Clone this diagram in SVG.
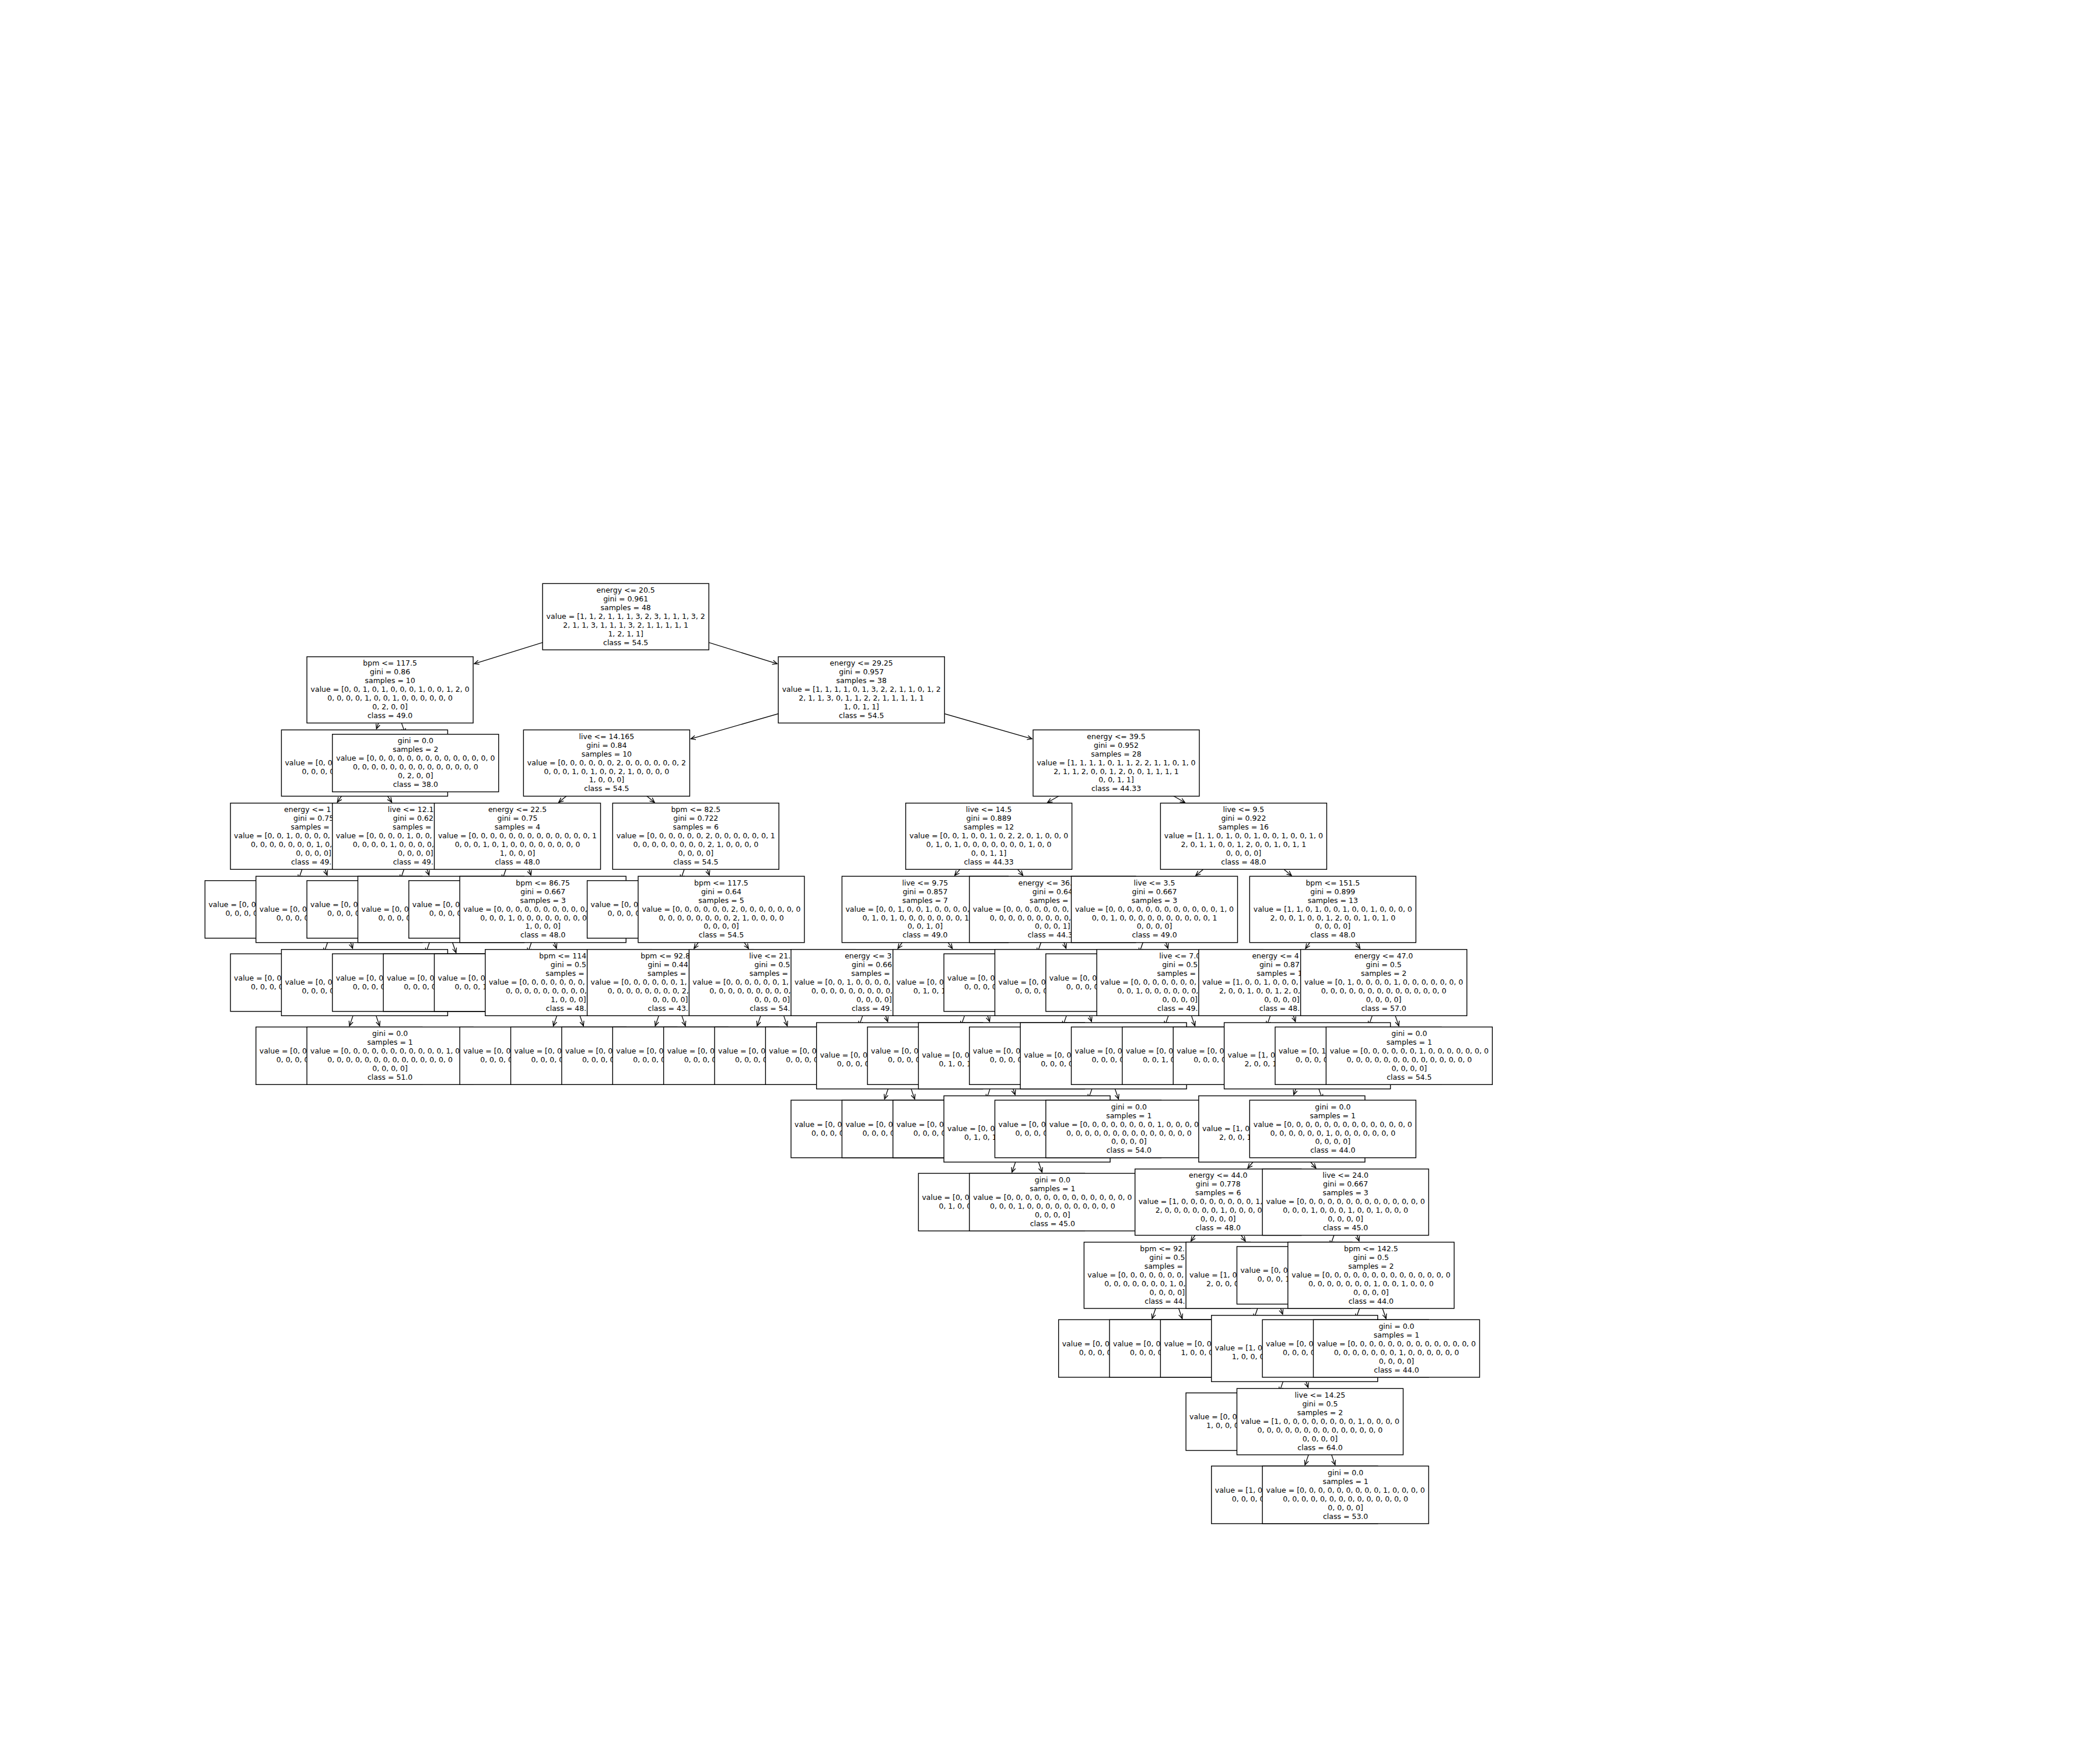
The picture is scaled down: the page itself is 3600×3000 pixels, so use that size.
<svg xmlns="http://www.w3.org/2000/svg" width="3600" height="3000" viewBox="0 0 3600 3000">
<defs>
<style>
.b{fill:#fff;stroke:#000;stroke-width:1.4}
text{font-family:"DejaVu Sans","Liberation Sans",sans-serif;font-size:12.5px;fill:#000;text-anchor:middle}
.f{text-anchor:start}
#edges line{stroke:#000;stroke-width:1.3;fill:none;marker-end:url(#ah)}
</style>
<marker id="ah" markerUnits="userSpaceOnUse" markerWidth="14" markerHeight="14" viewBox="-12 -7 14 14" refX="0" refY="0" orient="auto" overflow="visible"><path d="M-8,-3.6 L0,0 L-8,3.6" fill="none" stroke="#000" stroke-width="1.3"/></marker>
</defs>
<rect x="0" y="0" width="3600" height="3000" fill="#fff"/>
<g id="edges">
<line x1="1072.66" y1="1057.2" x2="813.03" y2="1137.82"/>
<line x1="1072.66" y1="1057.2" x2="1332.29" y2="1137.82"/>
<line x1="668.62" y1="1182.65" x2="645.38" y2="1249.41"/>
<line x1="668.62" y1="1182.65" x2="694.46" y2="1256.86"/>
<line x1="1476.7" y1="1182.65" x2="1184.32" y2="1266.63"/>
<line x1="1476.7" y1="1182.65" x2="1769.08" y2="1266.63"/>
<line x1="624.94" y1="1308.1" x2="578.27" y2="1375.11"/>
<line x1="624.94" y1="1308.1" x2="671.61" y2="1375.11"/>
<line x1="1039.9" y1="1308.1" x2="957.79" y2="1375.48"/>
<line x1="1039.9" y1="1308.1" x2="1122.01" y2="1375.48"/>
<line x1="1913.5" y1="1308.1" x2="1795.72" y2="1375.75"/>
<line x1="1913.5" y1="1308.1" x2="2031.28" y2="1375.75"/>
<line x1="537.58" y1="1433.55" x2="511.74" y2="1507.76"/>
<line x1="537.58" y1="1433.55" x2="560.82" y2="1500.31"/>
<line x1="712.3" y1="1433.55" x2="686.46" y2="1507.76"/>
<line x1="712.3" y1="1433.55" x2="735.54" y2="1500.31"/>
<line x1="887.02" y1="1433.55" x2="861.18" y2="1507.76"/>
<line x1="887.02" y1="1433.55" x2="910.26" y2="1500.31"/>
<line x1="1192.78" y1="1433.55" x2="1166.94" y2="1507.76"/>
<line x1="1192.78" y1="1433.55" x2="1216.02" y2="1500.31"/>
<line x1="1695.1" y1="1433.55" x2="1636.65" y2="1500.69"/>
<line x1="1695.1" y1="1433.55" x2="1753.55" y2="1500.69"/>
<line x1="2131.9" y1="1433.55" x2="2049.79" y2="1500.93"/>
<line x1="2131.9" y1="1433.55" x2="2214.01" y2="1500.93"/>
<line x1="581.26" y1="1559" x2="555.42" y2="1633.21"/>
<line x1="581.26" y1="1559" x2="604.5" y2="1625.76"/>
<line x1="755.98" y1="1559" x2="730.14" y2="1633.21"/>
<line x1="755.98" y1="1559" x2="781.82" y2="1633.21"/>
<line x1="930.7" y1="1559" x2="904.86" y2="1633.21"/>
<line x1="930.7" y1="1559" x2="953.94" y2="1625.76"/>
<line x1="1236.46" y1="1559" x2="1189.79" y2="1626.01"/>
<line x1="1236.46" y1="1559" x2="1283.13" y2="1626.01"/>
<line x1="1585.9" y1="1559" x2="1539.23" y2="1626.01"/>
<line x1="1585.9" y1="1559" x2="1632.57" y2="1626.01"/>
<line x1="1804.3" y1="1559" x2="1778.46" y2="1633.21"/>
<line x1="1804.3" y1="1559" x2="1827.54" y2="1625.76"/>
<line x1="1979.02" y1="1559" x2="1953.18" y2="1633.21"/>
<line x1="1979.02" y1="1559" x2="2002.26" y2="1625.76"/>
<line x1="2284.78" y1="1559" x2="2238.11" y2="1626.01"/>
<line x1="2284.78" y1="1559" x2="2331.45" y2="1626.01"/>
<line x1="624.94" y1="1684.45" x2="599.1" y2="1758.66"/>
<line x1="624.94" y1="1684.45" x2="650.78" y2="1758.66"/>
<line x1="974.38" y1="1684.45" x2="948.54" y2="1758.66"/>
<line x1="974.38" y1="1684.45" x2="1000.22" y2="1758.66"/>
<line x1="1149.1" y1="1684.45" x2="1123.26" y2="1758.66"/>
<line x1="1149.1" y1="1684.45" x2="1174.94" y2="1758.66"/>
<line x1="1323.82" y1="1684.45" x2="1297.98" y2="1758.66"/>
<line x1="1323.82" y1="1684.45" x2="1349.66" y2="1758.66"/>
<line x1="1498.54" y1="1684.45" x2="1472.7" y2="1758.66"/>
<line x1="1498.54" y1="1684.45" x2="1521.78" y2="1751.21"/>
<line x1="1673.26" y1="1684.45" x2="1647.42" y2="1758.66"/>
<line x1="1673.26" y1="1684.45" x2="1696.5" y2="1751.21"/>
<line x1="1847.98" y1="1684.45" x2="1822.14" y2="1758.66"/>
<line x1="1847.98" y1="1684.45" x2="1871.22" y2="1751.21"/>
<line x1="2022.7" y1="1684.45" x2="1996.86" y2="1758.66"/>
<line x1="2022.7" y1="1684.45" x2="2048.54" y2="1758.66"/>
<line x1="2197.42" y1="1684.45" x2="2171.58" y2="1758.66"/>
<line x1="2197.42" y1="1684.45" x2="2220.66" y2="1751.21"/>
<line x1="2372.14" y1="1684.45" x2="2346.3" y2="1758.66"/>
<line x1="2372.14" y1="1684.45" x2="2397.98" y2="1758.66"/>
<line x1="1542.22" y1="1809.9" x2="1516.38" y2="1884.11"/>
<line x1="1542.22" y1="1809.9" x2="1568.06" y2="1884.11"/>
<line x1="1716.94" y1="1809.9" x2="1691.1" y2="1884.11"/>
<line x1="1716.94" y1="1809.9" x2="1740.18" y2="1876.66"/>
<line x1="1891.66" y1="1809.9" x2="1865.82" y2="1884.11"/>
<line x1="1891.66" y1="1809.9" x2="1917.5" y2="1884.11"/>
<line x1="2241.1" y1="1809.9" x2="2217.86" y2="1876.66"/>
<line x1="2241.1" y1="1809.9" x2="2266.94" y2="1884.11"/>
<line x1="1760.62" y1="1935.35" x2="1734.78" y2="2009.56"/>
<line x1="1760.62" y1="1935.35" x2="1786.46" y2="2009.56"/>
<line x1="2197.42" y1="1935.35" x2="2138.97" y2="2002.49"/>
<line x1="2197.42" y1="1935.35" x2="2255.87" y2="2002.49"/>
<line x1="2088.22" y1="2060.8" x2="2041.55" y2="2127.81"/>
<line x1="2088.22" y1="2060.8" x2="2134.89" y2="2127.81"/>
<line x1="2306.62" y1="2060.8" x2="2280.78" y2="2135.01"/>
<line x1="2306.62" y1="2060.8" x2="2329.86" y2="2127.56"/>
<line x1="2000.86" y1="2186.25" x2="1975.02" y2="2260.46"/>
<line x1="2000.86" y1="2186.25" x2="2026.7" y2="2260.46"/>
<line x1="2175.58" y1="2186.25" x2="2149.74" y2="2260.46"/>
<line x1="2175.58" y1="2186.25" x2="2198.82" y2="2253.01"/>
<line x1="2350.3" y1="2186.25" x2="2324.46" y2="2260.46"/>
<line x1="2350.3" y1="2186.25" x2="2376.14" y2="2260.46"/>
<line x1="2219.26" y1="2311.7" x2="2193.42" y2="2385.91"/>
<line x1="2219.26" y1="2311.7" x2="2242.5" y2="2378.46"/>
<line x1="2262.94" y1="2437.15" x2="2237.1" y2="2511.36"/>
<line x1="2262.94" y1="2437.15" x2="2288.78" y2="2511.36"/>
</g>

<!-- depth 0 -->
<g id="d0_root" transform="translate(1072.66 1057.2)"><rect class="b" x="-142.5" y="-56.8" width="285" height="113.6"/>
<text y="-41.4">energy &lt;= 20.5</text><text y="-26.4">gini = 0.961</text><text y="-11.5">samples = 48</text>
<text y="3.5">value = [1, 1, 2, 1, 1, 1, 3, 2, 3, 1, 1, 1, 3, 2</text><text y="18.5">2, 1, 1, 3, 1, 1, 1, 3, 2, 1, 1, 1, 1, 1</text><text y="33.4">1, 2, 1, 1]</text><text y="48.4">class = 54.5</text></g>

<!-- depth 1 -->
<g id="d1_i4" transform="translate(668.62 1182.65)"><rect class="b" x="-142.5" y="-56.8" width="285" height="113.6"/>
<text y="-41.4">bpm &lt;= 117.5</text><text y="-26.4">gini = 0.86</text><text y="-11.5">samples = 10</text>
<text y="3.5">value = [0, 0, 1, 0, 1, 0, 0, 0, 1, 0, 0, 1, 2, 0</text><text y="18.5">0, 0, 0, 0, 1, 0, 0, 1, 0, 0, 0, 0, 0, 0</text><text y="33.4">0, 2, 0, 0]</text><text y="48.4">class = 49.0</text></g>
<g id="d1_i22_5" transform="translate(1476.7 1182.65)"><rect class="b" x="-142.5" y="-56.8" width="285" height="113.6"/>
<text y="-41.4">energy &lt;= 29.25</text><text y="-26.4">gini = 0.957</text><text y="-11.5">samples = 38</text>
<text y="3.5">value = [1, 1, 1, 1, 0, 1, 3, 2, 2, 1, 1, 0, 1, 2</text><text y="18.5">2, 1, 1, 3, 0, 1, 1, 2, 2, 1, 1, 1, 1, 1</text><text y="33.4">1, 0, 1, 1]</text><text y="48.4">class = 54.5</text></g>

<!-- depth 2 -->
<g id="d2_i3" transform="translate(624.94 1308.1)"><rect class="b" x="-142.5" y="-56.8" width="285" height="113.6"/>
<text class="f" x="-136.5" y="3.5">value = [0, 0</text><text class="f" x="-107.5" y="18.5">0, 0, 0, 0</text></g>
<g id="d2_i5" transform="translate(712.3 1308.1)"><rect class="b" x="-142.5" y="-49.35" width="285" height="98.7"/>
<text y="-33.7">gini = 0.0</text><text y="-18.7">samples = 2</text><text y="-3.8">value = [0, 0, 0, 0, 0, 0, 0, 0, 0, 0, 0, 0, 0, 0</text><text y="11.2">0, 0, 0, 0, 0, 0, 0, 0, 0, 0, 0, 0, 0, 0</text><text y="26.1">0, 2, 0, 0]</text><text y="41.1">class = 38.0</text></g>
<g id="d2_i12_5" transform="translate(1039.9 1308.1)"><rect class="b" x="-142.5" y="-56.8" width="285" height="113.6"/>
<text y="-41.4">live &lt;= 14.165</text><text y="-26.4">gini = 0.84</text><text y="-11.5">samples = 10</text>
<text y="3.5">value = [0, 0, 0, 0, 0, 0, 2, 0, 0, 0, 0, 0, 0, 2</text><text y="18.5">0, 0, 0, 1, 0, 1, 0, 0, 2, 1, 0, 0, 0, 0</text><text y="33.4">1, 0, 0, 0]</text><text y="48.4">class = 54.5</text></g>
<g id="d2_i32_5" transform="translate(1913.5 1308.1)"><rect class="b" x="-142.5" y="-56.8" width="285" height="113.6"/>
<text y="-41.4">energy &lt;= 39.5</text><text y="-26.4">gini = 0.952</text><text y="-11.5">samples = 28</text>
<text y="3.5">value = [1, 1, 1, 1, 0, 1, 1, 2, 2, 1, 1, 0, 1, 0</text><text y="18.5">2, 1, 1, 2, 0, 0, 1, 2, 0, 0, 1, 1, 1, 1</text><text y="33.4">0, 0, 1, 1]</text><text y="48.4">class = 44.33</text></g>

<!-- depth 3 -->
<g id="d3_i1" transform="translate(537.58 1433.55)"><rect class="b" x="-142.5" y="-56.8" width="285" height="113.6"/>
<text class="f" x="-50.5" y="-41.4">energy &lt;= 1</text><text class="f" x="-34.5" y="-26.4">gini = 0.75</text><text class="f" x="-39.2" y="-11.5">samples =</text>
<text class="f" x="-136.5" y="3.5">value = [0, 0, 1, 0, 0, 0, 0,</text><text class="f" x="-107.5" y="18.5">0, 0, 0, 0, 0, 0, 0, 1, 0,</text><text y="33.4">0, 0, 0, 0]</text><text class="f" x="-38.6" y="48.4">class = 49.</text></g>
<g id="d3_i5" transform="translate(712.3 1433.55)"><rect class="b" x="-142.5" y="-56.8" width="285" height="113.6"/>
<text class="f" x="-47.5" y="-41.4">live &lt;= 12.1</text><text class="f" x="-38.5" y="-26.4">gini = 0.62</text><text class="f" x="-39.2" y="-11.5">samples =</text>
<text class="f" x="-136.5" y="3.5">value = [0, 0, 0, 0, 1, 0, 0,</text><text class="f" x="-107.5" y="18.5">0, 0, 0, 0, 1, 0, 0, 0, 0,</text><text y="33.4">0, 0, 0, 0]</text><text class="f" x="-38.6" y="48.4">class = 49.</text></g>
<g id="d3_i9" transform="translate(887.02 1433.55)"><rect class="b" x="-142.5" y="-56.8" width="285" height="113.6"/>
<text y="-41.4">energy &lt;= 22.5</text><text y="-26.4">gini = 0.75</text><text y="-11.5">samples = 4</text>
<text y="3.5">value = [0, 0, 0, 0, 0, 0, 0, 0, 0, 0, 0, 0, 0, 1</text><text y="18.5">0, 0, 0, 1, 0, 1, 0, 0, 0, 0, 0, 0, 0, 0</text><text y="33.4">1, 0, 0, 0]</text><text y="48.4">class = 48.0</text></g>
<g id="d3_i16" transform="translate(1192.78 1433.55)"><rect class="b" x="-142.5" y="-56.8" width="285" height="113.6"/>
<text y="-41.4">bpm &lt;= 82.5</text><text y="-26.4">gini = 0.722</text><text y="-11.5">samples = 6</text>
<text y="3.5">value = [0, 0, 0, 0, 0, 0, 2, 0, 0, 0, 0, 0, 0, 1</text><text y="18.5">0, 0, 0, 0, 0, 0, 0, 0, 2, 1, 0, 0, 0, 0</text><text y="33.4">0, 0, 0, 0]</text><text y="48.4">class = 54.5</text></g>
<g id="d3_i27_5" transform="translate(1695.1 1433.55)"><rect class="b" x="-142.5" y="-56.8" width="285" height="113.6"/>
<text y="-41.4">live &lt;= 14.5</text><text y="-26.4">gini = 0.889</text><text y="-11.5">samples = 12</text>
<text y="3.5">value = [0, 0, 1, 0, 0, 1, 0, 2, 2, 0, 1, 0, 0, 0</text><text y="18.5">0, 1, 0, 1, 0, 0, 0, 0, 0, 0, 0, 1, 0, 0</text><text y="33.4">0, 0, 1, 1]</text><text y="48.4">class = 44.33</text></g>
<g id="d3_i37_5" transform="translate(2131.9 1433.55)"><rect class="b" x="-142.5" y="-56.8" width="285" height="113.6"/>
<text y="-41.4">live &lt;= 9.5</text><text y="-26.4">gini = 0.922</text><text y="-11.5">samples = 16</text>
<text y="3.5">value = [1, 1, 0, 1, 0, 0, 1, 0, 0, 1, 0, 0, 1, 0</text><text y="18.5">2, 0, 1, 1, 0, 0, 1, 2, 0, 0, 1, 0, 1, 1</text><text y="33.4">0, 0, 0, 0]</text><text y="48.4">class = 48.0</text></g>

<!-- depth 4 -->
<g id="d4_i0" transform="translate(493.9 1559)"><rect class="b" x="-142.5" y="-49.35" width="285" height="98.7"/>
<text class="f" x="-136.5" y="-3.8">value = [0, 0</text><text class="f" x="-107.5" y="11.2">0, 0, 0, 0</text></g>
<g id="d4_i2" transform="translate(581.26 1559)"><rect class="b" x="-142.5" y="-56.8" width="285" height="113.6"/>
<text class="f" x="-136.5" y="3.5">value = [0, 0</text><text class="f" x="-107.5" y="18.5">0, 0, 0, 0</text></g>
<g id="d4_i4" transform="translate(668.62 1559)"><rect class="b" x="-142.5" y="-49.35" width="285" height="98.7"/>
<text class="f" x="-136.5" y="-3.8">value = [0, 0</text><text class="f" x="-107.5" y="11.2">0, 0, 0, 0</text></g>
<g id="d4_i6" transform="translate(755.98 1559)"><rect class="b" x="-142.5" y="-56.8" width="285" height="113.6"/>
<text class="f" x="-136.5" y="3.5">value = [0, 0</text><text class="f" x="-107.5" y="18.5">0, 0, 0, 0</text></g>
<g id="d4_i8" transform="translate(843.34 1559)"><rect class="b" x="-142.5" y="-49.35" width="285" height="98.7"/>
<text class="f" x="-136.5" y="-3.8">value = [0, 0</text><text class="f" x="-107.5" y="11.2">0, 0, 0, 0</text></g>
<g id="d4_i10" transform="translate(930.7 1559)"><rect class="b" x="-142.5" y="-56.8" width="285" height="113.6"/>
<text y="-41.4">bpm &lt;= 86.75</text><text y="-26.4">gini = 0.667</text><text y="-11.5">samples = 3</text>
<text class="f" x="-136.5" y="3.5">value = [0, 0, 0, 0, 0, 0, 0, 0, 0, 0,</text><text class="f" x="-107.5" y="18.5">0, 0, 0, 1, 0, 0, 0, 0, 0, 0, 0, 0</text><text y="33.4">1, 0, 0, 0]</text><text y="48.4">class = 48.0</text></g>
<g id="d4_i15" transform="translate(1149.1 1559)"><rect class="b" x="-142.5" y="-49.35" width="285" height="98.7"/>
<text class="f" x="-136.5" y="-3.8">value = [0, 0</text><text class="f" x="-107.5" y="11.2">0, 0, 0, 0</text></g>
<g id="d4_i17" transform="translate(1236.46 1559)"><rect class="b" x="-142.5" y="-56.8" width="285" height="113.6"/>
<text y="-41.4">bpm &lt;= 117.5</text><text y="-26.4">gini = 0.64</text><text y="-11.5">samples = 5</text>
<text y="3.5">value = [0, 0, 0, 0, 0, 0, 2, 0, 0, 0, 0, 0, 0, 0</text><text y="18.5">0, 0, 0, 0, 0, 0, 0, 0, 2, 1, 0, 0, 0, 0</text><text y="33.4">0, 0, 0, 0]</text><text y="48.4">class = 54.5</text></g>
<g id="d4_i25" transform="translate(1585.9 1559)"><rect class="b" x="-142.5" y="-56.8" width="285" height="113.6"/>
<text y="-41.4">live &lt;= 9.75</text><text y="-26.4">gini = 0.857</text><text y="-11.5">samples = 7</text>
<text class="f" x="-136.5" y="3.5">value = [0, 0, 1, 0, 0, 1, 0, 0, 0, 0,</text><text class="f" x="-107.5" y="18.5">0, 1, 0, 1, 0, 0, 0, 0, 0, 0, 0, 1</text><text y="33.4">0, 0, 1, 0]</text><text y="48.4">class = 49.0</text></g>
<g id="d4_i30" transform="translate(1804.3 1559)"><rect class="b" x="-142.5" y="-56.8" width="285" height="113.6"/>
<text class="f" x="-58.6" y="-41.4">energy &lt;= 36.</text><text class="f" x="-34.5" y="-26.4">gini = 0.64</text><text class="f" x="-39.2" y="-11.5">samples =</text>
<text class="f" x="-136.5" y="3.5">value = [0, 0, 0, 0, 0, 0, 0,</text><text class="f" x="-107.5" y="18.5">0, 0, 0, 0, 0, 0, 0, 0, 0,</text><text y="33.4">0, 0, 0, 1]</text><text class="f" x="-42.6" y="48.4">class = 44.3</text></g>
<g id="d4_i34" transform="translate(1979.02 1559)"><rect class="b" x="-142.5" y="-56.8" width="285" height="113.6"/>
<text y="-41.4">live &lt;= 3.5</text><text y="-26.4">gini = 0.667</text><text y="-11.5">samples = 3</text>
<text y="3.5">value = [0, 0, 0, 0, 0, 0, 0, 0, 0, 0, 0, 0, 1, 0</text><text y="18.5">0, 0, 1, 0, 0, 0, 0, 0, 0, 0, 0, 0, 0, 1</text><text y="33.4">0, 0, 0, 0]</text><text y="48.4">class = 49.0</text></g>
<g id="d4_i41" transform="translate(2284.78 1559)"><rect class="b" x="-142.5" y="-56.8" width="285" height="113.6"/>
<text y="-41.4">bpm &lt;= 151.5</text><text y="-26.4">gini = 0.899</text><text y="-11.5">samples = 13</text>
<text y="3.5">value = [1, 1, 0, 1, 0, 0, 1, 0, 0, 1, 0, 0, 0, 0</text><text y="18.5">2, 0, 0, 1, 0, 0, 1, 2, 0, 0, 1, 0, 1, 0</text><text y="33.4">0, 0, 0, 0]</text><text y="48.4">class = 48.0</text></g>

<!-- depth 5 -->
<g id="d5_i1" transform="translate(537.58 1684.45)"><rect class="b" x="-142.5" y="-49.35" width="285" height="98.7"/>
<text class="f" x="-136.5" y="-3.8">value = [0, 0</text><text class="f" x="-107.5" y="11.2">0, 0, 0, 0</text></g>
<g id="d5_i3" transform="translate(624.94 1684.45)"><rect class="b" x="-142.5" y="-56.8" width="285" height="113.6"/>
<text class="f" x="-136.5" y="3.5">value = [0, 0</text><text class="f" x="-107.5" y="18.5">0, 0, 0, 0</text></g>
<g id="d5_i5" transform="translate(712.3 1684.45)"><rect class="b" x="-142.5" y="-49.35" width="285" height="98.7"/>
<text class="f" x="-136.5" y="-3.8">value = [0, 0</text><text class="f" x="-107.5" y="11.2">0, 0, 0, 0</text></g>
<g id="d5_i7" transform="translate(799.66 1684.45)"><rect class="b" x="-142.5" y="-49.35" width="285" height="98.7"/>
<text class="f" x="-136.5" y="-3.8">value = [0, 0</text><text class="f" x="-107.5" y="11.2">0, 0, 0, 0</text></g>
<g id="d5_i9" transform="translate(887.02 1684.45)"><rect class="b" x="-142.5" y="-49.35" width="285" height="98.7"/>
<text class="f" x="-136.5" y="-3.8">value = [0, 0</text><text class="f" x="-107.5" y="11.2">0, 0, 0, 1</text></g>
<g id="d5_i11" transform="translate(974.38 1684.45)"><rect class="b" x="-142.5" y="-56.8" width="285" height="113.6"/>
<text class="f" x="-50.1" y="-41.4">bpm &lt;= 114</text><text y="-26.4">gini = 0.5</text><text class="f" x="-39.2" y="-11.5">samples =</text>
<text class="f" x="-136.5" y="3.5">value = [0, 0, 0, 0, 0, 0, 0,</text><text class="f" x="-107.5" y="18.5">0, 0, 0, 0, 0, 0, 0, 0, 0,</text><text y="33.4">1, 0, 0, 0]</text><text class="f" x="-38.6" y="48.4">class = 48.</text></g>
<g id="d5_i15" transform="translate(1149.1 1684.45)"><rect class="b" x="-142.5" y="-56.8" width="285" height="113.6"/>
<text class="f" x="-50.9" y="-41.4">bpm &lt;= 92.8</text><text class="f" x="-38.5" y="-26.4">gini = 0.44</text><text class="f" x="-39.2" y="-11.5">samples =</text>
<text class="f" x="-136.5" y="3.5">value = [0, 0, 0, 0, 0, 0, 1,</text><text class="f" x="-107.5" y="18.5">0, 0, 0, 0, 0, 0, 0, 0, 2,</text><text y="33.4">0, 0, 0, 0]</text><text class="f" x="-38.6" y="48.4">class = 43.</text></g>
<g id="d5_i19" transform="translate(1323.82 1684.45)"><rect class="b" x="-142.5" y="-56.8" width="285" height="113.6"/>
<text class="f" x="-39.5" y="-41.4">live &lt;= 21.</text><text y="-26.4">gini = 0.5</text><text class="f" x="-39.2" y="-11.5">samples =</text>
<text class="f" x="-136.5" y="3.5">value = [0, 0, 0, 0, 0, 0, 1,</text><text class="f" x="-107.5" y="18.5">0, 0, 0, 0, 0, 0, 0, 0, 0,</text><text y="33.4">0, 0, 0, 0]</text><text class="f" x="-38.6" y="48.4">class = 54.</text></g>
<g id="d5_i23" transform="translate(1498.54 1684.45)"><rect class="b" x="-142.5" y="-56.8" width="285" height="113.6"/>
<text class="f" x="-50.4" y="-41.4">energy &lt;= 3</text><text class="f" x="-38.5" y="-26.4">gini = 0.66</text><text class="f" x="-39.2" y="-11.5">samples =</text>
<text class="f" x="-136.5" y="3.5">value = [0, 0, 1, 0, 0, 0, 0,</text><text class="f" x="-107.5" y="18.5">0, 0, 0, 0, 0, 0, 0, 0, 0,</text><text y="33.4">0, 0, 0, 0]</text><text class="f" x="-38.6" y="48.4">class = 49.</text></g>
<g id="d5_i27" transform="translate(1673.26 1684.45)"><rect class="b" x="-142.5" y="-56.8" width="285" height="113.6"/>
<text class="f" x="-136.5" y="3.5">value = [0, 0</text><text class="f" x="-107.5" y="18.5">0, 1, 0, 1</text></g>
<g id="d5_i29" transform="translate(1760.62 1684.45)"><rect class="b" x="-142.5" y="-49.35" width="285" height="98.7"/>
<text class="f" x="-136.5" y="-3.8">value = [0, 0</text><text class="f" x="-107.5" y="11.2">0, 0, 0, 0</text></g>
<g id="d5_i31" transform="translate(1847.98 1684.45)"><rect class="b" x="-142.5" y="-56.8" width="285" height="113.6"/>
<text class="f" x="-136.5" y="3.5">value = [0, 0</text><text class="f" x="-107.5" y="18.5">0, 0, 0, 0</text></g>
<g id="d5_i33" transform="translate(1935.34 1684.45)"><rect class="b" x="-142.5" y="-49.35" width="285" height="98.7"/>
<text class="f" x="-136.5" y="-3.8">value = [0, 0</text><text class="f" x="-107.5" y="11.2">0, 0, 0, 0</text></g>
<g id="d5_i35" transform="translate(2022.7 1684.45)"><rect class="b" x="-142.5" y="-56.8" width="285" height="113.6"/>
<text y="-41.4">live &lt;= 7.0</text><text y="-26.4">gini = 0.5</text><text class="f" x="-39.2" y="-11.5">samples =</text>
<text class="f" x="-136.5" y="3.5">value = [0, 0, 0, 0, 0, 0, 0,</text><text class="f" x="-107.5" y="18.5">0, 0, 1, 0, 0, 0, 0, 0, 0,</text><text y="33.4">0, 0, 0, 0]</text><text class="f" x="-38.6" y="48.4">class = 49.</text></g>
<g id="d5_i39" transform="translate(2197.42 1684.45)"><rect class="b" x="-142.5" y="-56.8" width="285" height="113.6"/>
<text class="f" x="-51" y="-41.4">energy &lt;= 4</text><text class="f" x="-38.5" y="-26.4">gini = 0.87</text><text class="f" x="-43.1" y="-11.5">samples = 1</text>
<text class="f" x="-136.5" y="3.5">value = [1, 0, 0, 1, 0, 0, 0,</text><text class="f" x="-107.5" y="18.5">2, 0, 0, 1, 0, 0, 1, 2, 0,</text><text y="33.4">0, 0, 0, 0]</text><text class="f" x="-38.6" y="48.4">class = 48.</text></g>
<g id="d5_i43" transform="translate(2372.14 1684.45)"><rect class="b" x="-142.5" y="-56.8" width="285" height="113.6"/>
<text y="-41.4">energy &lt;= 47.0</text><text y="-26.4">gini = 0.5</text><text y="-11.5">samples = 2</text>
<text y="3.5">value = [0, 1, 0, 0, 0, 0, 1, 0, 0, 0, 0, 0, 0, 0</text><text y="18.5">0, 0, 0, 0, 0, 0, 0, 0, 0, 0, 0, 0, 0, 0</text><text y="33.4">0, 0, 0, 0]</text><text y="48.4">class = 57.0</text></g>

<!-- depth 6 -->
<g id="d6_i2" transform="translate(581.26 1809.9)"><rect class="b" x="-142.5" y="-49.35" width="285" height="98.7"/>
<text class="f" x="-136.5" y="-3.8">value = [0, 0</text><text class="f" x="-107.5" y="11.2">0, 0, 0, 0</text></g>
<g id="d6_i4" transform="translate(668.62 1809.9)"><rect class="b" x="-142.5" y="-49.35" width="285" height="98.7"/>
<text y="-33.7">gini = 0.0</text><text y="-18.7">samples = 1</text><text class="f" x="-136.5" y="-3.8">value = [0, 0, 0, 0, 0, 0, 0, 0, 0, 0, 0, 1, 0</text><text y="11.2">0, 0, 0, 0, 0, 0, 0, 0, 0, 0, 0, 0, 0, 0</text><text y="26.1">0, 0, 0, 0]</text><text y="41.1">class = 51.0</text></g>
<g id="d6_i10" transform="translate(930.7 1809.9)"><rect class="b" x="-142.5" y="-49.35" width="285" height="98.7"/>
<text class="f" x="-136.5" y="-3.8">value = [0, 0</text><text class="f" x="-107.5" y="11.2">0, 0, 0, 0</text></g>
<g id="d6_i12" transform="translate(1018.06 1809.9)"><rect class="b" x="-142.5" y="-49.35" width="285" height="98.7"/>
<text class="f" x="-136.5" y="-3.8">value = [0, 0</text><text class="f" x="-107.5" y="11.2">0, 0, 0, 0</text></g>
<g id="d6_i14" transform="translate(1105.42 1809.9)"><rect class="b" x="-142.5" y="-49.35" width="285" height="98.7"/>
<text class="f" x="-136.5" y="-3.8">value = [0, 0</text><text class="f" x="-107.5" y="11.2">0, 0, 0, 0</text></g>
<g id="d6_i16" transform="translate(1192.78 1809.9)"><rect class="b" x="-142.5" y="-49.35" width="285" height="98.7"/>
<text class="f" x="-136.5" y="-3.8">value = [0, 0</text><text class="f" x="-107.5" y="11.2">0, 0, 0, 0</text></g>
<g id="d6_i18" transform="translate(1280.14 1809.9)"><rect class="b" x="-142.5" y="-49.35" width="285" height="98.7"/>
<text class="f" x="-136.5" y="-3.8">value = [0, 0</text><text class="f" x="-107.5" y="11.2">0, 0, 0, 0</text></g>
<g id="d6_i20" transform="translate(1367.5 1809.9)"><rect class="b" x="-142.5" y="-49.35" width="285" height="98.7"/>
<text class="f" x="-136.5" y="-3.8">value = [0, 0</text><text class="f" x="-107.5" y="11.2">0, 0, 0, 0</text></g>
<g id="d6_i22" transform="translate(1454.86 1809.9)"><rect class="b" x="-142.5" y="-49.35" width="285" height="98.7"/>
<text class="f" x="-136.5" y="-3.8">value = [0, 0</text><text class="f" x="-107.5" y="11.2">0, 0, 0, 0</text></g>
<g id="d6_i24" transform="translate(1542.22 1809.9)"><rect class="b" x="-142.5" y="-56.8" width="285" height="113.6"/>
<text class="f" x="-136.5" y="3.5">value = [0, 0</text><text class="f" x="-107.5" y="18.5">0, 0, 0, 0</text></g>
<g id="d6_i26" transform="translate(1629.58 1809.9)"><rect class="b" x="-142.5" y="-49.35" width="285" height="98.7"/>
<text class="f" x="-136.5" y="-3.8">value = [0, 0</text><text class="f" x="-107.5" y="11.2">0, 0, 0, 0</text></g>
<g id="d6_i28" transform="translate(1716.94 1809.9)"><rect class="b" x="-142.5" y="-56.8" width="285" height="113.6"/>
<text class="f" x="-136.5" y="3.5">value = [0, 0</text><text class="f" x="-107.5" y="18.5">0, 1, 0, 1</text></g>
<g id="d6_i30" transform="translate(1804.3 1809.9)"><rect class="b" x="-142.5" y="-49.35" width="285" height="98.7"/>
<text class="f" x="-136.5" y="-3.8">value = [0, 0</text><text class="f" x="-107.5" y="11.2">0, 0, 0, 0</text></g>
<g id="d6_i32" transform="translate(1891.66 1809.9)"><rect class="b" x="-142.5" y="-56.8" width="285" height="113.6"/>
<text class="f" x="-136.5" y="3.5">value = [0, 0</text><text class="f" x="-107.5" y="18.5">0, 0, 0, 0</text></g>
<g id="d6_i34" transform="translate(1979.02 1809.9)"><rect class="b" x="-142.5" y="-49.35" width="285" height="98.7"/>
<text class="f" x="-136.5" y="-3.8">value = [0, 0</text><text class="f" x="-107.5" y="11.2">0, 0, 0, 0</text></g>
<g id="d6_i36" transform="translate(2066.38 1809.9)"><rect class="b" x="-142.5" y="-49.35" width="285" height="98.7"/>
<text class="f" x="-136.5" y="-3.8">value = [0, 0</text><text class="f" x="-107.5" y="11.2">0, 0, 1, 0</text></g>
<g id="d6_i38" transform="translate(2153.74 1809.9)"><rect class="b" x="-142.5" y="-49.35" width="285" height="98.7"/>
<text class="f" x="-136.5" y="-3.8">value = [0, 0</text><text class="f" x="-107.5" y="11.2">0, 0, 0, 0</text></g>
<g id="d6_i40" transform="translate(2241.1 1809.9)"><rect class="b" x="-142.5" y="-56.8" width="285" height="113.6"/>
<text class="f" x="-136.5" y="3.5">value = [1, 0</text><text class="f" x="-107.5" y="18.5">2, 0, 0, 1</text></g>
<g id="d6_i42" transform="translate(2328.46 1809.9)"><rect class="b" x="-142.5" y="-49.35" width="285" height="98.7"/>
<text class="f" x="-136.5" y="-3.8">value = [0, 1</text><text class="f" x="-107.5" y="11.2">0, 0, 0, 0</text></g>
<g id="d6_i44" transform="translate(2415.82 1809.9)"><rect class="b" x="-142.5" y="-49.35" width="285" height="98.7"/>
<text y="-33.7">gini = 0.0</text><text y="-18.7">samples = 1</text><text y="-3.8">value = [0, 0, 0, 0, 0, 0, 1, 0, 0, 0, 0, 0, 0, 0</text><text y="11.2">0, 0, 0, 0, 0, 0, 0, 0, 0, 0, 0, 0, 0, 0</text><text y="26.1">0, 0, 0, 0]</text><text y="41.1">class = 54.5</text></g>

<!-- depth 7 -->
<g id="d7_i23" transform="translate(1498.54 1935.35)"><rect class="b" x="-142.5" y="-49.35" width="285" height="98.7"/>
<text class="f" x="-136.5" y="-3.8">value = [0, 0</text><text class="f" x="-107.5" y="11.2">0, 0, 0, 0</text></g>
<g id="d7_i25" transform="translate(1585.9 1935.35)"><rect class="b" x="-142.5" y="-49.35" width="285" height="98.7"/>
<text class="f" x="-136.5" y="-3.8">value = [0, 0</text><text class="f" x="-107.5" y="11.2">0, 0, 0, 0</text></g>
<g id="d7_i27" transform="translate(1673.26 1935.35)"><rect class="b" x="-142.5" y="-49.35" width="285" height="98.7"/>
<text class="f" x="-136.5" y="-3.8">value = [0, 0</text><text class="f" x="-107.5" y="11.2">0, 0, 0, 0</text></g>
<g id="d7_i29" transform="translate(1760.62 1935.35)"><rect class="b" x="-142.5" y="-56.8" width="285" height="113.6"/>
<text class="f" x="-136.5" y="3.5">value = [0, 0</text><text class="f" x="-107.5" y="18.5">0, 1, 0, 1</text></g>
<g id="d7_i31" transform="translate(1847.98 1935.35)"><rect class="b" x="-142.5" y="-49.35" width="285" height="98.7"/>
<text class="f" x="-136.5" y="-3.8">value = [0, 0</text><text class="f" x="-107.5" y="11.2">0, 0, 0, 0</text></g>
<g id="d7_i33" transform="translate(1935.34 1935.35)"><rect class="b" x="-142.5" y="-49.35" width="285" height="98.7"/>
<text y="-33.7">gini = 0.0</text><text y="-18.7">samples = 1</text><text class="f" x="-136.5" y="-3.8">value = [0, 0, 0, 0, 0, 0, 0, 0, 1, 0, 0, 0, 0</text><text y="11.2">0, 0, 0, 0, 0, 0, 0, 0, 0, 0, 0, 0, 0, 0</text><text y="26.1">0, 0, 0, 0]</text><text y="41.1">class = 54.0</text></g>
<g id="d7_i39" transform="translate(2197.42 1935.35)"><rect class="b" x="-142.5" y="-56.8" width="285" height="113.6"/>
<text class="f" x="-136.5" y="3.5">value = [1, 0</text><text class="f" x="-107.5" y="18.5">2, 0, 0, 1</text></g>
<g id="d7_i41" transform="translate(2284.78 1935.35)"><rect class="b" x="-142.5" y="-49.35" width="285" height="98.7"/>
<text y="-33.7">gini = 0.0</text><text y="-18.7">samples = 1</text><text y="-3.8">value = [0, 0, 0, 0, 0, 0, 0, 0, 0, 0, 0, 0, 0, 0</text><text y="11.2">0, 0, 0, 0, 0, 0, 1, 0, 0, 0, 0, 0, 0, 0</text><text y="26.1">0, 0, 0, 0]</text><text y="41.1">class = 44.0</text></g>

<!-- depth 8 -->
<g id="d8_i28" transform="translate(1716.94 2060.8)"><rect class="b" x="-142.5" y="-49.35" width="285" height="98.7"/>
<text class="f" x="-136.5" y="-3.8">value = [0, 0</text><text class="f" x="-107.5" y="11.2">0, 1, 0, 0</text></g>
<g id="d8_i30" transform="translate(1804.3 2060.8)"><rect class="b" x="-142.5" y="-49.35" width="285" height="98.7"/>
<text y="-33.7">gini = 0.0</text><text y="-18.7">samples = 1</text><text y="-3.8">value = [0, 0, 0, 0, 0, 0, 0, 0, 0, 0, 0, 0, 0, 0</text><text y="11.2">0, 0, 0, 1, 0, 0, 0, 0, 0, 0, 0, 0, 0, 0</text><text y="26.1">0, 0, 0, 0]</text><text y="41.1">class = 45.0</text></g>
<g id="d8_i36_5" transform="translate(2088.22 2060.8)"><rect class="b" x="-142.5" y="-56.8" width="285" height="113.6"/>
<text y="-41.4">energy &lt;= 44.0</text><text y="-26.4">gini = 0.778</text><text y="-11.5">samples = 6</text>
<text class="f" x="-136.5" y="3.5">value = [1, 0, 0, 0, 0, 0, 0, 0, 0, 1,</text><text class="f" x="-107.5" y="18.5">2, 0, 0, 0, 0, 0, 0, 1, 0, 0, 0, 0</text><text y="33.4">0, 0, 0, 0]</text><text y="48.4">class = 48.0</text></g>
<g id="d8_i41_5" transform="translate(2306.62 2060.8)"><rect class="b" x="-142.5" y="-56.8" width="285" height="113.6"/>
<text y="-41.4">live &lt;= 24.0</text><text y="-26.4">gini = 0.667</text><text y="-11.5">samples = 3</text>
<text y="3.5">value = [0, 0, 0, 0, 0, 0, 0, 0, 0, 0, 0, 0, 0, 0</text><text y="18.5">0, 0, 0, 1, 0, 0, 0, 1, 0, 0, 1, 0, 0, 0</text><text y="33.4">0, 0, 0, 0]</text><text y="48.4">class = 45.0</text></g>

<!-- depth 9 -->
<g id="d9_i34_5" transform="translate(2000.86 2186.25)"><rect class="b" x="-142.5" y="-56.8" width="285" height="113.6"/>
<text class="f" x="-46.6" y="-41.4">bpm &lt;= 92.</text><text y="-26.4">gini = 0.5</text><text class="f" x="-39.2" y="-11.5">samples =</text>
<text class="f" x="-136.5" y="3.5">value = [0, 0, 0, 0, 0, 0, 0,</text><text class="f" x="-107.5" y="18.5">0, 0, 0, 0, 0, 0, 0, 1, 0,</text><text y="33.4">0, 0, 0, 0]</text><text class="f" x="-38.6" y="48.4">class = 44.</text></g>
<g id="d9_i38_5" transform="translate(2175.58 2186.25)"><rect class="b" x="-142.5" y="-56.8" width="285" height="113.6"/>
<text class="f" x="-136.5" y="3.5">value = [1, 0</text><text class="f" x="-107.5" y="18.5">2, 0, 0, 0</text></g>
<g id="d9_i40_5" transform="translate(2262.94 2186.25)"><rect class="b" x="-142.5" y="-49.35" width="285" height="98.7"/>
<text class="f" x="-136.5" y="-3.8">value = [0, 0</text><text class="f" x="-107.5" y="11.2">0, 0, 0, 1</text></g>
<g id="d9_i42_5" transform="translate(2350.3 2186.25)"><rect class="b" x="-142.5" y="-56.8" width="285" height="113.6"/>
<text y="-41.4">bpm &lt;= 142.5</text><text y="-26.4">gini = 0.5</text><text y="-11.5">samples = 2</text>
<text y="3.5">value = [0, 0, 0, 0, 0, 0, 0, 0, 0, 0, 0, 0, 0, 0</text><text y="18.5">0, 0, 0, 0, 0, 0, 0, 1, 0, 0, 1, 0, 0, 0</text><text y="33.4">0, 0, 0, 0]</text><text y="48.4">class = 44.0</text></g>

<!-- depth 10 -->
<g id="d10_i33_5" transform="translate(1957.18 2311.7)"><rect class="b" x="-142.5" y="-49.35" width="285" height="98.7"/>
<text class="f" x="-136.5" y="-3.8">value = [0, 0</text><text class="f" x="-107.5" y="11.2">0, 0, 0, 0</text></g>
<g id="d10_i35_5" transform="translate(2044.54 2311.7)"><rect class="b" x="-142.5" y="-49.35" width="285" height="98.7"/>
<text class="f" x="-136.5" y="-3.8">value = [0, 0</text><text class="f" x="-107.5" y="11.2">0, 0, 0, 0</text></g>
<g id="d10_i37_5" transform="translate(2131.9 2311.7)"><rect class="b" x="-142.5" y="-49.35" width="285" height="98.7"/>
<text class="f" x="-136.5" y="-3.8">value = [0, 0</text><text class="f" x="-107.5" y="11.2">1, 0, 0, 0</text></g>
<g id="d10_i39_5" transform="translate(2219.26 2311.7)"><rect class="b" x="-142.5" y="-56.8" width="285" height="113.6"/>
<text class="f" x="-136.5" y="3.5">value = [1, 0</text><text class="f" x="-107.5" y="18.5">1, 0, 0, 0</text></g>
<g id="d10_i41_5" transform="translate(2306.62 2311.7)"><rect class="b" x="-142.5" y="-49.35" width="285" height="98.7"/>
<text class="f" x="-136.5" y="-3.8">value = [0, 0</text><text class="f" x="-107.5" y="11.2">0, 0, 0, 0</text></g>
<g id="d10_i43_5" transform="translate(2393.98 2311.7)"><rect class="b" x="-142.5" y="-49.35" width="285" height="98.7"/>
<text y="-33.7">gini = 0.0</text><text y="-18.7">samples = 1</text><text y="-3.8">value = [0, 0, 0, 0, 0, 0, 0, 0, 0, 0, 0, 0, 0, 0</text><text y="11.2">0, 0, 0, 0, 0, 0, 0, 1, 0, 0, 0, 0, 0, 0</text><text y="26.1">0, 0, 0, 0]</text><text y="41.1">class = 44.0</text></g>

<!-- depth 11 -->
<g id="d11_i38_5" transform="translate(2175.58 2437.15)"><rect class="b" x="-142.5" y="-49.35" width="285" height="98.7"/>
<text class="f" x="-136.5" y="-3.8">value = [0, 0</text><text class="f" x="-107.5" y="11.2">1, 0, 0, 0</text></g>
<g id="d11_i40_5" transform="translate(2262.94 2437.15)"><rect class="b" x="-142.5" y="-56.8" width="285" height="113.6"/>
<text y="-41.4">live &lt;= 14.25</text><text y="-26.4">gini = 0.5</text><text y="-11.5">samples = 2</text>
<text y="3.5">value = [1, 0, 0, 0, 0, 0, 0, 0, 0, 1, 0, 0, 0, 0</text><text y="18.5">0, 0, 0, 0, 0, 0, 0, 0, 0, 0, 0, 0, 0, 0</text><text y="33.4">0, 0, 0, 0]</text><text y="48.4">class = 64.0</text></g>

<!-- depth 12 -->
<g id="d12_i39_5" transform="translate(2219.26 2562.6)"><rect class="b" x="-142.5" y="-49.35" width="285" height="98.7"/>
<text class="f" x="-136.5" y="-3.8">value = [1, 0</text><text class="f" x="-107.5" y="11.2">0, 0, 0, 0</text></g>
<g id="d12_i41_5" transform="translate(2306.62 2562.6)"><rect class="b" x="-142.5" y="-49.35" width="285" height="98.7"/>
<text y="-33.7">gini = 0.0</text><text y="-18.7">samples = 1</text><text y="-3.8">value = [0, 0, 0, 0, 0, 0, 0, 0, 0, 1, 0, 0, 0, 0</text><text y="11.2">0, 0, 0, 0, 0, 0, 0, 0, 0, 0, 0, 0, 0, 0</text><text y="26.1">0, 0, 0, 0]</text><text y="41.1">class = 53.0</text></g>
</svg>
